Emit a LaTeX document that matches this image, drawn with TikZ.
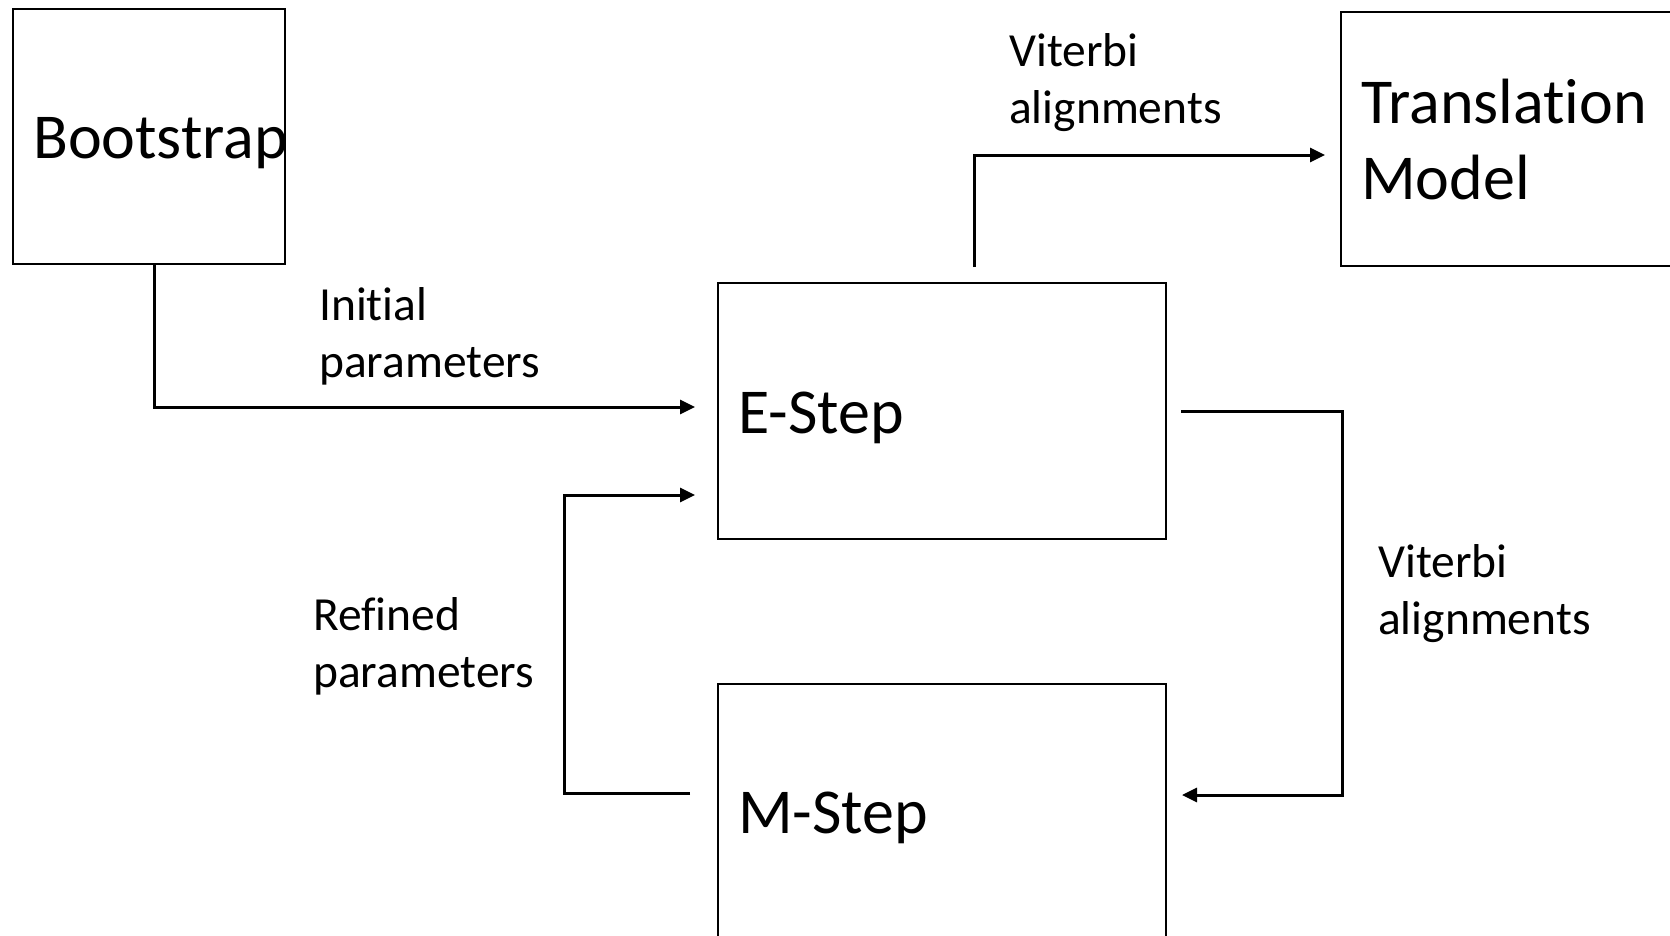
\documentclass[tikz,border=0pt]{standalone}
\usepackage{fontspec}
\setmainfont{Carlito}[Ligatures=NoCommon]
\usetikzlibrary{arrows.meta}
\begin{document}
\begin{tikzpicture}[x=1pt,y=-1pt,
  box/.style={draw, line width=2.2pt, inner sep=0pt, outer sep=0pt},
  big/.style={font=\fontsize{64}{76}\selectfont, inner sep=0pt, anchor=base west, align=left},
  lbl/.style={font=\fontsize{47.5}{57}\selectfont, inner sep=0pt, anchor=base west, align=left},
  conn/.style={line width=3pt},
  arr/.style={conn, -{Triangle[length=15pt,width=14pt]}}]
\clip (0,0) rectangle (1670,935);
\fill[white] (0,0) rectangle (1670,935);
% boxes
\node[box, minimum width=272pt, minimum height=255pt] (boot) at (149,136.5) {};
\node[big] (boottxt) at (33,158) {Bootstrap};
\node[box, minimum width=349pt, minimum height=254pt] (trans) at (1515.5,139) {};
\node[big] (transtxt) at (1361,199) {Translation\\Model};
\node[box, minimum width=448pt, minimum height=256pt] (estep) at (942,411) {};
\node[big] (etxt) at (738,433) {E-Step};
\node[box, minimum width=448pt, minimum height=276pt] (mstep) at (942,822) {};
\node[big] (mtxt) at (738,833) {M-Step};
% labels
\node[lbl] (lblinit) at (319,377) {Initial\\parameters};
\node[lbl] (lblref) at (313,687) {Refined\\parameters};
\node[lbl] (lblvit1) at (1009,123) {Viterbi\\alignments};
\node[lbl] (lblvit2) at (1378,634) {Viterbi\\alignments};
% connectors
\draw[arr] ([xshift=5pt]boot.south) |- ([xshift=-23pt,yshift=4pt]estep.west);
\draw[arr] ([xshift=32pt,yshift=16pt]estep.north) |- ([xshift=-16pt,yshift=-16pt]trans.west);
\draw[arr] ([xshift=15pt]estep.east) -- ++(161,0) |- ([xshift=16pt,yshift=27pt]mstep.east);
\draw[arr] ([xshift=-28pt,yshift=29pt]mstep.west) -- ++(-126,0) |- ([xshift=-23pt,yshift=-84pt]estep.west);
\end{tikzpicture}
\end{document}
